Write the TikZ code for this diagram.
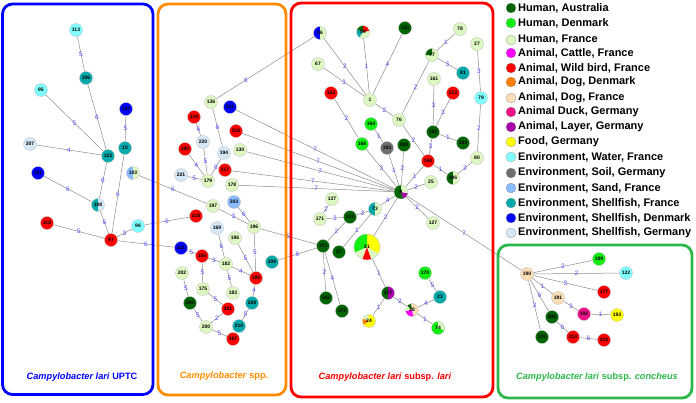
\documentclass[tikz,border=0pt]{standalone}
\usepackage{fontspec}
\setmainfont{Liberation Sans}
\usetikzlibrary{backgrounds}
\definecolor{haus}{HTML}{006400}
\definecolor{hdk}{HTML}{11EE11}
\definecolor{hfr}{HTML}{DDF8C0}
\definecolor{cattle}{HTML}{FF00FF}
\definecolor{bird}{HTML}{FF0000}
\definecolor{dogdk}{HTML}{FF8000}
\definecolor{dogfr}{HTML}{FBDDB5}
\definecolor{duck}{HTML}{EE1188}
\definecolor{layer}{HTML}{AA00AA}
\definecolor{food}{HTML}{FFFF00}
\definecolor{water}{HTML}{80FFFF}
\definecolor{soil}{HTML}{6E6E6E}
\definecolor{sand}{HTML}{88BBFF}
\definecolor{shellF}{HTML}{00AAAA}
\definecolor{shellD}{HTML}{0000FF}
\definecolor{shellG}{HTML}{D4E8F8}
\definecolor{lblc}{HTML}{5050FF}
\definecolor{pblue}{HTML}{0000FF}
\definecolor{porange}{HTML}{FF8C00}
\definecolor{pred}{HTML}{FF0000}
\definecolor{pgreen}{HTML}{2DB84B}
\tikzset{
 nd/.style={circle, minimum size=13pt, inner sep=0pt, draw=black!25, line width=0.3pt, font=\fontsize{5}{5}\selectfont\bfseries},
 ed/.style={draw=black!45, line width=0.5pt},
 lbl/.style={font=\fontsize{6.5}{6.5}\selectfont, text=lblc, inner sep=0.5pt},
 panel/.style={line width=2.8pt, rounded corners=10pt},
 ttl/.style={font=\fontsize{9.2}{10}\selectfont\bfseries},
 leg/.style={anchor=west, font=\fontsize{11}{12}\selectfont\bfseries, inner sep=0pt},
 legdot/.style={circle, minimum size=10pt, inner sep=0pt, draw=black!40, line width=0.3pt},
}
\newcommand{\nn}[5]{\node[nd,fill=#5] (#1) at (#3,#4) {#2};}
\newcommand{\pw}[6]{\fill[#6] (#1,#2) -- ++(#4:#3pt) arc[start angle=#4, end angle=#5, radius=#3pt] -- cycle;}
\newcommand{\pbase}[4]{\fill[#4] (#1,#2) circle[radius=#3pt];}
\begin{document}
\begin{tikzpicture}[x=1pt,y=-1pt]
\useasboundingbox (0,0) rectangle (696,402);
% panels
\draw[panel, pblue] (2.5,4) rectangle (153,394.5);
\draw[panel, porange] (158,4) rectangle (286,395);
\draw[panel, pred] (291,3) rectangle (493,397);
\draw[panel, pgreen] (498,245) rectangle (692,398);
\node[ttl, text=pblue] (t1) at (82,377) {\textit{Campylobacter lari} UPTC};
\node[ttl, text=porange] (t2) at (224,376) {\textit{Campylobacter} spp.};
\node[ttl, text=pred] (t3) at (385,377) {\textit{Campylobacter lari} subsp. \textit{lari}};
\node[ttl, text=pgreen] (t4) at (597,377) {\textit{Campylobacter lari} subsp. \textit{concheus}};
% legend
\foreach \c/\t/\y [count=\i] in {haus/{Human, Australia}/8, hdk/{Human, Denmark}/23, hfr/{Human, France}/40, cattle/{Animal, Cattle, France}/53, bird/{Animal, Wild bird, France}/68, dogdk/{Animal, Dog, Denmark}/82, dogfr/{Animal, Dog, France}/98, duck/{Animal Duck, Germany}/112, layer/{Animal, Layer, Germany}/127, food/{Food, Germany}/142, water/{Environment, Water, France}/157, soil/{Environment, Soil, Germany}/173, sand/{Environment, Sand, France}/188, shellF/{Environment, Shellfish, France}/203, shellD/{Environment, Shellfish, Denmark}/218, shellG/{Environment, Shellfish, Germany}/233}
{ \node[legdot, fill=\c] (ld\i) at (511,\y) {}; \node[leg] (lt\i) at (518,\y) {\t}; }
% left panel
\nn{n113}{113}{76}{30}{water}
\nn{n106}{106}{86}{78}{shellF}
\nn{n95}{95}{41}{90}{water}
\nn{n134}{134}{126}{109}{shellD}
\nn{n15}{15}{125}{148}{shellF}
\nn{n207}{207}{30}{144}{shellG}
\nn{n123}{123}{108}{156}{shellF}
\nn{n101}{101}{38}{173}{shellD}
\pw{133}{173}{6.5}{90}{270}{sand}\pw{133}{173}{6.5}{-90}{90}{hfr}
\node[nd] (n103) at (133,173) {103};
\pw{98}{205}{6.5}{90}{270}{shellF}\pw{98}{205}{6.5}{-90}{90}{shellG}
\node[nd] (n108) at (98,205) {108};
\nn{n118}{118}{47}{223}{bird}
\nn{n97}{97}{111}{240}{bird}
\nn{n98}{98}{138}{226}{water}
% orange panel
\nn{n136}{136}{211}{102}{hfr}
\nn{n212}{212}{230}{107}{shellD}
\nn{n219}{219}{194}{117}{bird}
\nn{n216}{216}{236}{131}{bird}
\nn{n220}{220}{203}{142}{shellG}
\nn{n180}{180}{185}{149}{bird}
\nn{n194}{194}{224}{153}{shellG}
\nn{n130}{130}{240}{150}{hfr}
\nn{n217}{217}{225}{170}{bird}
\nn{n221}{221}{181}{175}{shellG}
\nn{n179}{179}{208}{181}{hfr}
\nn{n178}{178}{232}{185}{hfr}
\nn{n197}{197}{213}{206}{hfr}
\nn{n203}{203}{234}{202}{sand}
\nn{n218}{218}{196}{216}{bird}
\nn{n196}{196}{254}{227}{hfr}
\nn{n169}{169}{217}{228}{shellG}
\nn{n186}{186}{235}{238}{hfr}
\nn{n211}{211}{181}{248}{shellD}
\nn{n184}{184}{202}{256}{bird}
\nn{n182}{182}{226}{264}{hfr}
\nn{n202}{202}{182}{273}{hfr}
\nn{n185}{185}{256}{278}{bird}
\nn{n209}{209}{272}{262}{shellF}
\nn{n175}{175}{203}{289}{hfr}
\nn{n183}{183}{233}{293}{hfr}
\nn{n204}{204}{190}{303}{haus}
\nn{n208}{208}{252}{303}{shellF}
\nn{n201}{201}{228}{309}{bird}
\nn{n210}{210}{239}{326}{shellF}
\nn{n200}{200}{206}{327}{hfr}
\nn{n187}{187}{233}{339}{bird}
% red panel
\pw{320}{33}{6.5}{90}{270}{shellD}\pw{320}{33}{6.5}{-90}{90}{hfr}
\node[nd] (n56) at (320,33) {56};
\pbase{363}{32}{6.5}{hfr}\pw{363}{32}{6.5}{10}{90}{bird}\pw{363}{32}{6.5}{90}{160}{haus}\pw{363}{32}{6.5}{160}{235}{shellF}
\node[nd] (n59) at (363,32) {59};
\nn{n133}{133}{405}{28}{haus}
\nn{n67}{67}{318}{64}{hfr}
\nn{n1}{1}{370}{100}{hfr}
\nn{n163}{163}{331}{93}{bird}
\nn{n164}{164}{371}{124}{hdk}
\nn{n76}{76}{399}{120}{hfr}
\nn{n78}{78}{460}{29}{hfr}
\nn{n27}{27}{477}{44}{hfr}
\pbase{432}{55}{6.5}{hfr}\pw{432}{55}{6.5}{90}{180}{haus}
\node[nd] (n77) at (432,55) {77};
\nn{n81}{81}{463}{73}{shellF}
\nn{n161}{161}{434}{79}{hfr}
\nn{n213}{213}{453}{93}{bird}
\nn{n79}{79}{481}{98}{water}
\nn{n166}{166}{362}{144}{hdk}
\nn{r183}{183}{387}{148}{soil}
\nn{n153}{153}{433}{132}{haus}
\nn{n154}{154}{463}{143}{haus}
\nn{r204}{204}{404}{145}{haus}
\nn{n168}{168}{428}{161}{bird}
\nn{n80}{80}{477}{158}{hfr}
\pw{453}{178}{6.5}{90}{270}{haus}\pw{453}{178}{6.5}{-90}{90}{hfr}
\node[nd] (r106) at (453,178) {106};
\nn{n25}{25}{431}{182}{hfr}
\nn{n127}{127}{433}{223}{hfr}
\pw{401}{192}{7}{90}{290}{haus}\pw{401}{192}{7}{290}{350}{layer}\pw{401}{192}{7}{-10}{90}{hfr}
\node[nd, minimum size=14pt] (n9) at (401,192) {9};
\nn{n137}{137}{332}{199}{hfr}
\nn{n171}{171}{320}{219}{hfr}
\nn{n174}{174}{350}{217}{haus}
\pw{375}{209}{6.5}{90}{270}{shellF}\pw{375}{209}{6.5}{-90}{90}{hfr}
\node[nd] (n73) at (375,209) {73};
\nn{n173}{173}{323}{246}{haus}
\nn{n37}{37}{339}{252}{haus}
\pw{367}{247}{13}{-30}{90}{food}\pw{367}{247}{13}{90}{205}{hdk}\pw{367}{247}{13}{205}{250}{hfr}\pw{367}{247}{13}{250}{290}{bird}\pw{367}{247}{13}{290}{330}{hfr}
\node[nd, minimum size=26pt] (n21) at (367,247) {21};
\nn{n162}{162}{326}{298}{haus}
\nn{n172}{172}{342}{311}{haus}
\nn{n170}{170}{425}{273}{hdk}
\nn{n23}{23}{440}{297}{shellF}
\pw{388}{293}{6.5}{90}{270}{haus}\pw{388}{293}{6.5}{-90}{90}{layer}
\node[nd] (n107) at (388,293) {107};
\pbase{412}{310}{6.5}{dogfr}\pw{412}{310}{6.5}{100}{140}{haus}\pw{412}{310}{6.5}{140}{190}{hfr}\pw{412}{310}{6.5}{190}{280}{cattle}
\node[nd] (n28) at (412,310) {28};
\pbase{369}{321}{6.5}{food}\pw{369}{321}{6.5}{95}{160}{hfr}\pw{369}{321}{6.5}{160}{215}{dogdk}
\node[nd] (n24) at (369,321) {24};
\pbase{438}{328}{6.5}{hdk}\pw{438}{328}{6.5}{-20}{90}{hfr}
\node[nd] (n74) at (438,328) {74};
% green panel
\nn{n190}{190}{527}{274}{dogfr}
\nn{n189}{189}{599}{259}{hdk}
\nn{n122}{122}{626}{273}{water}
\nn{n177}{177}{604}{292}{bird}
\nn{n191}{191}{558}{298}{dogfr}
\nn{n192}{192}{584}{314}{duck}
\nn{n193}{193}{617}{315}{food}
\nn{n205}{205}{552}{317}{haus}
\nn{n176}{176}{542}{337}{haus}
\nn{n214}{214}{573}{337}{bird}
\nn{n215}{215}{604}{340}{bird}
% edges
\begin{scope}[on background layer]
\draw[ed] (n113) -- node[lbl]{5} (n106);
\draw[ed] (n106) -- node[lbl]{6} (n123);
\draw[ed] (n95) -- node[lbl]{5} (n123);
\draw[ed] (n207) -- node[lbl]{4} (n123);
\draw[ed] (n134) -- node[lbl]{5} (n15);
\draw[ed] (n15) -- node[lbl]{6} (n97);
\draw[ed] (n123) -- node[lbl]{6} (n108);
\draw[ed] (n101) -- node[lbl]{6} (n108);
\draw[ed] (n108) -- node[lbl]{6} (n97);
\draw[ed] (n118) -- node[lbl]{5} (n97);
\draw[ed] (n97) -- node[lbl]{3} (n98);
\draw[ed] (n97) -- node[lbl]{6} (n211);
\draw[ed] (n98) -- node[lbl]{6} (n218);
\draw[ed] (n103) -- node[lbl]{6} (n197);
\draw[ed] (n136) -- node[lbl]{6} (n194);
\draw[ed] (n219) -- node[lbl]{6} (n220);
\draw[ed] (n220) -- node[lbl]{5} (n179);
\draw[ed] (n180) -- node[lbl]{4} (n179);
\draw[ed] (n194) -- node[lbl]{6} (n179);
\draw[ed] (n221) -- node[lbl]{5} (n179);
\draw[ed] (n197) -- node[lbl]{3} (n196);
\draw[ed] (n203) -- node[lbl]{6} (n196);
\draw[ed] (n169) -- node[lbl]{6} (n182);
\draw[ed] (n186) -- node[lbl]{5} (n185);
\draw[ed] (n196) -- node[lbl]{5} (n185);
\draw[ed] (n211) -- node[lbl]{5} (n184);
\draw[ed] (n184) -- node[lbl]{3} (n182);
\draw[ed] (n184) -- node[lbl]{5} (n175);
\draw[ed] (n182) -- node[lbl]{4} (n185);
\draw[ed] (n182) -- node[lbl]{5} (n183);
\draw[ed] (n202) -- node[lbl]{5} (n204);
\draw[ed] (n175) -- node[lbl]{5} (n201);
\draw[ed] (n185) -- node[lbl]{4} (n208);
\draw[ed] (n204) -- node[lbl]{5} (n200);
\draw[ed] (n201) -- node[lbl]{2} (n200);
\draw[ed] (n208) -- node[lbl]{5} (n210);
\draw[ed] (n200) -- node[lbl]{5} (n187);
\draw[ed] (n209) -- node[lbl]{6} (n173);
\draw[ed] (n196) -- node[lbl]{5} (n173);
\draw[ed] (n136) -- node[lbl,pos=0.3]{6} (n56);
\draw[ed] (n212) -- node[lbl]{7} (n9);
\draw[ed] (n216) -- node[lbl]{7} (n9);
\draw[ed] (n130) -- node[lbl]{7} (n9);
\draw[ed] (n217) -- node[lbl]{7} (n9);
\draw[ed] (n178) -- node[lbl]{7} (n9);
\draw[ed] (n56) -- node[lbl]{2} (n1);
\draw[ed] (n59) -- node[lbl]{1} (n1);
\draw[ed] (n133) -- node[lbl]{4} (n1);
\draw[ed] (n67) -- node[lbl]{3} (n1);
\draw[ed] (n1) -- node[lbl]{2} (n76);
\draw[ed] (n163) -- node[lbl]{2} (n166);
\draw[ed] (n77) -- node[lbl]{2} (n76);
\draw[ed] (n78) -- node[lbl]{1} (n77);
\draw[ed] (n77) -- node[lbl]{3} (n81);
\draw[ed] (n27) -- node[lbl]{3} (n79);
\draw[ed] (n79) -- node[lbl]{2} (n80);
\draw[ed] (n161) -- node[lbl]{3} (n153);
\draw[ed] (n213) -- node[lbl]{3} (n153);
\draw[ed] (n153) -- node[lbl]{1} (n154);
\draw[ed] (n153) -- node[lbl]{3} (n168);
\draw[ed] (n76) -- node[lbl]{2} (n168);
\draw[ed] (n168) -- node[lbl]{1} (r106);
\draw[ed] (r106) -- node[lbl]{3} (n80);
\draw[ed] (r204) -- node[lbl]{2} (n9);
\draw[ed] (n168) -- node[lbl]{1} (n9);
\draw[ed] (n25) -- node[lbl]{2} (n9);
\draw[ed] (n127) -- node[lbl]{2} (n9);
\draw[ed] (n9) -- node[lbl]{7} (n190);
\draw[ed] (n166) -- node[lbl]{3} (n9);
\draw[ed] (n164) -- node[lbl]{1} (r183);
\draw[ed] (r183) -- node[lbl]{1} (n9);
\draw[ed] (n137) -- node[lbl]{2} (n171);
\draw[ed] (n171) -- node[lbl]{3} (n174);
\draw[ed] (n174) -- node[lbl]{3} (n73);
\draw[ed] (n73) -- node[lbl]{4} (n9);
\draw[ed] (n174) -- node[lbl]{2} (n173);
\draw[ed] (n37) -- node[lbl]{1} (n73);
\draw[ed] (n21) -- node[lbl]{2} (n9);
\draw[ed] (n173) -- node[lbl]{2} (n162);
\draw[ed] (n173) -- node[lbl]{4} (n172);
\draw[ed] (n21) -- node[lbl]{1} (n107);
\draw[ed] (n107) -- node[lbl]{1} (n24);
\draw[ed] (n107) -- node[lbl]{2} (n28);
\draw[ed] (n28) -- node[lbl]{4} (n23);
\draw[ed] (n23) -- node[lbl]{5} (n170);
\draw[ed] (n28) -- node[lbl]{1} (n74);
\draw[ed] (n190) -- node[lbl]{2} (n189);
\draw[ed] (n190) -- node[lbl]{2} (n122);
\draw[ed] (n190) -- node[lbl]{3} (n177);
\draw[ed] (n190) -- node[lbl]{1} (n191);
\draw[ed] (n191) -- node[lbl]{3} (n192);
\draw[ed] (n192) -- node[lbl]{1} (n193);
\draw[ed] (n190) -- node[lbl]{6} (n205);
\draw[ed] (n190) -- node[lbl]{3} (n176);
\draw[ed] (n205) -- node[lbl]{6} (n214);
\draw[ed] (n214) -- node[lbl]{6} (n215);
\end{scope}
\end{tikzpicture}
\end{document}
